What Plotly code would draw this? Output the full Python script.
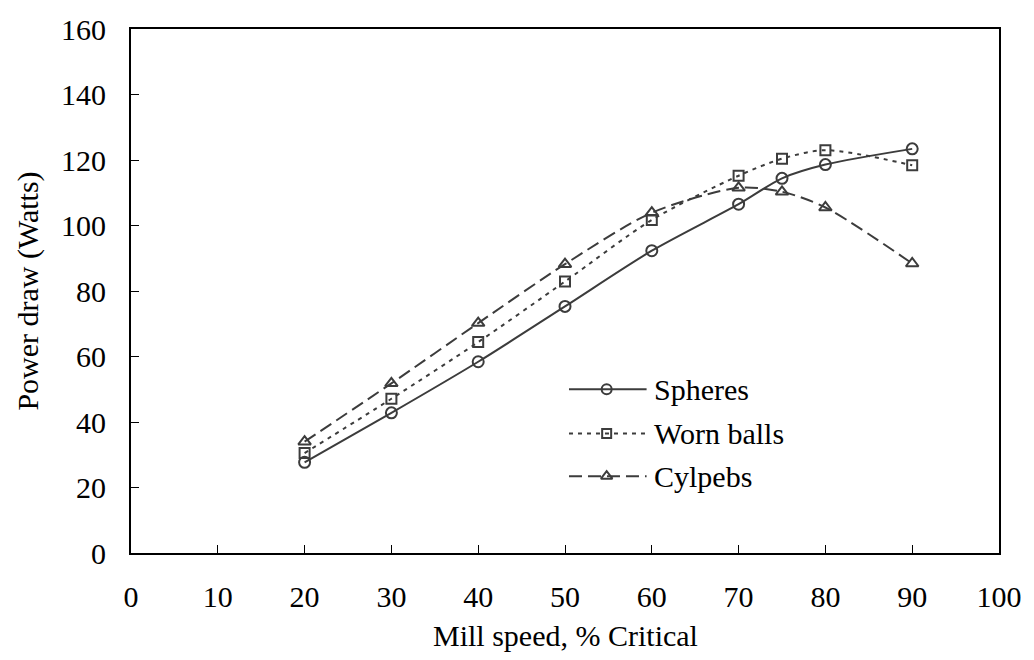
import plotly.graph_objects as go

# Mill speed (% of critical) and measured power draw (W) for each media type
mill_speed = [20, 30, 40, 50, 60, 70, 75, 80, 90]
spheres = [27.7, 42.8, 58.4, 75.3, 92.3, 106.5, 114.4, 118.6, 123.4]
worn_balls = [30.5, 47.1, 64.4, 82.9, 101.7, 115.2, 120.4, 123.0, 118.4]
cylpebs = [34.0, 51.8, 70.2, 88.2, 103.9, 111.5, 110.3, 105.5, 88.4]

x_ticks = [0, 10, 20, 30, 40, 50, 60, 70, 80, 90, 100]
y_ticks = [0, 20, 40, 60, 80, 100, 120, 140, 160]

series_names = ["Spheres", "Worn balls", "Cylpebs"]

LINE_COLOR = "#3c3c3c"
FONT = "Liberation Serif"

styles = [
    dict(dash="solid", symbol="circle-open", size=11),
    dict(dash="4px,5px", symbol="square-open", size=10),
    dict(dash="13px,6px", symbol="triangle-up-open", size=11),
]

fig = go.Figure()

for name, values, st in zip(series_names, [spheres, worn_balls, cylpebs], styles):
    fig.add_trace(go.Scatter(
        x=mill_speed, y=values, name=name, mode="lines+markers",
        line=dict(color=LINE_COLOR, width=2, dash=st["dash"], shape="spline", smoothing=0.8),
        marker=dict(symbol=st["symbol"], size=st["size"], color=LINE_COLOR,
                    line=dict(width=2, color=LINE_COLOR)),
        showlegend=False,
    ))

# Hand-drawn legend key on an overlay axis spanning the plot area (0..1 both ways)
key_rows = [0.3126, 0.228, 0.1466]
key_x0, key_xm, key_x1, text_x = 0.5046, 0.548, 0.594, 0.600
for name, row, st in zip(series_names, key_rows, styles):
    fig.add_trace(go.Scatter(
        x=[key_x0, key_x1], y=[row, row], mode="lines",
        line=dict(color=LINE_COLOR, width=2, dash=st["dash"]),
        xaxis="x2", yaxis="y2", showlegend=False, hoverinfo="skip",
    ))
    fig.add_trace(go.Scatter(
        x=[key_xm], y=[row], mode="markers",
        marker=dict(symbol=st["symbol"], size=st["size"] - 1, color=LINE_COLOR,
                    line=dict(width=2, color=LINE_COLOR)),
        xaxis="x2", yaxis="y2", showlegend=False, hoverinfo="skip",
    ))
    fig.add_annotation(
        x=text_x, y=row, xref="x2", yref="y2", text=name, showarrow=False,
        xanchor="left", yanchor="middle", font=dict(family=FONT, size=30, color="black"),
    )

# X-axis title placed just under the tick labels
fig.add_annotation(
    x=0.5, y=-0.157, xref="paper", yref="paper", text="Mill speed, % Critical",
    showarrow=False, xanchor="center", yanchor="middle",
    font=dict(family=FONT, size=30, color="black"),
)

axis_common = dict(
    showgrid=False, zeroline=False, showline=True, linecolor="black", linewidth=2,
    mirror=True, ticks="inside", ticklen=8, tickwidth=1, tickcolor="black",
    tickfont=dict(family=FONT, size=30, color="black"),
)

fig.update_layout(
    width=1034, height=660,
    margin=dict(l=131, r=31, t=21, b=107),
    paper_bgcolor="white", plot_bgcolor="white",
    font=dict(family=FONT, color="black"),
    xaxis=dict(
        range=[0, 100], tickvals=x_ticks, ticktext=[str(v) for v in x_ticks],
        ticklabelstandoff=16,
        **axis_common,
    ),
    yaxis=dict(
        range=[0, 160], tickvals=y_ticks, ticktext=[str(v) for v in y_ticks],
        ticklabelstandoff=17,
        title=dict(text="Power draw (Watts)", font=dict(family=FONT, size=30), standoff=14),
        **axis_common,
    ),
    xaxis2=dict(range=[0, 1], overlaying="x", visible=False, domain=[0, 1]),
    yaxis2=dict(range=[0, 1], overlaying="y", visible=False, domain=[0, 1]),
    showlegend=False,
)

fig.write_html("out.html")
